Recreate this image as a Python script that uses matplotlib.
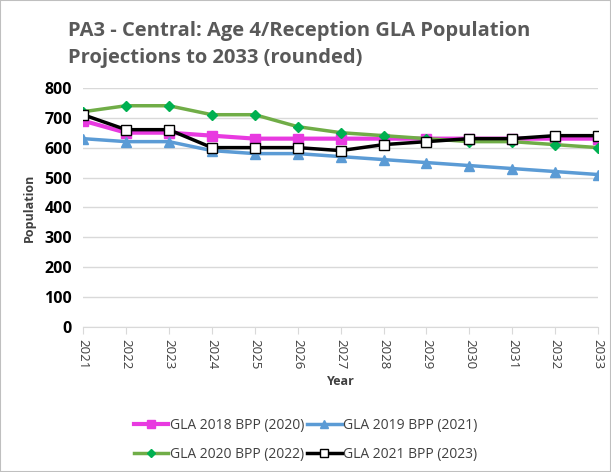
import matplotlib
matplotlib.use('Agg')
from matplotlib import pyplot as plt

years = [str(y) for y in range(2021, 2034)]
bpp_2018 = [690, 650, 650, 640, 630, 630, 630, 630, 630, 630, 630, 630, 630]
bpp_2019 = [630, 620, 620, 590, 580, 580, 570, 560, 550, 540, 530, 520, 510]
bpp_2020 = [720, 740, 740, 710, 710, 670, 650, 640, 630, 620, 620, 610, 600]
bpp_2021 = [710, 660, 660, 600, 600, 600, 590, 610, 620, 630, 630, 640, 640]
labels = ['GLA 2018 BPP (2020)', 'GLA 2019 BPP (2021)',
          'GLA 2020 BPP (2022)', 'GLA 2021 BPP (2023)']

plt.rcParams['font.family'] = ['Open Sans', 'DejaVu Sans']

fig = plt.figure(figsize=(6.11, 4.72), dpi=100)
ax = fig.add_axes([0.136, 0.307, 0.843, 0.507])

x = list(range(len(years)))
l1, = ax.plot(x, bpp_2018, color='#e83ae0', lw=3, marker='s', ms=7, label=labels[0])
l2, = ax.plot(x, bpp_2019, color='#5b9bd5', lw=2.5, marker='^', ms=7, label=labels[1])
l3, = ax.plot(x, bpp_2020, color='#70ad47', lw=2.5, marker='D', ms=5,
              mfc='#00b050', mec='#00b050', label=labels[2])
l4, = ax.plot(x, bpp_2021, color='black', lw=2.5, marker='s', ms=7.5,
              mfc='white', mec='black', mew=1, label=labels[3])

ax.set_xlim(0, len(years) - 1)
ax.set_ylim(0, 800)
ax.set_yticks(range(0, 801, 100))
ax.set_xticks(x)
ax.set_xticklabels(years, rotation=-90, fontsize=9.5, color='#404040')
for t in ax.get_yticklabels():
    t.set_fontweight('bold')
    t.set_fontsize(11.5)
    t.set_color('black')
ax.grid(axis='y', color='#d9d9d9', lw=1)
ax.set_axisbelow(True)
for s in ['top', 'right', 'left']:
    ax.spines[s].set_visible(False)
ax.spines['bottom'].set_color('#d9d9d9')
ax.tick_params(axis='y', length=0, pad=8)
ax.tick_params(axis='x', color='#d9d9d9', length=5)

ax.set_xlabel('Year', fontsize=9, fontweight='bold', color='#404040', labelpad=4)
ax.set_ylabel('Population', fontsize=9, fontweight='bold', color='#404040', labelpad=6)

fig.text(0.111, 0.955, 'PA3 - Central: Age 4/Reception GLA Population\nProjections to 2033 (rounded)',
         fontsize=14.5, fontweight='bold', color='#595959', va='top', linespacing=1.45)

# legend fills column-wise, so reorder to get 2018/2019 on the first row
fig.legend([l1, l3, l2, l4], [labels[0], labels[2], labels[1], labels[3]],
           loc='center', bbox_to_anchor=(0.5, 0.068), ncol=2, frameon=False,
           fontsize=10, labelcolor='#404040', handlelength=2.5, markerscale=0.85,
           handletextpad=0.1, columnspacing=0.2, labelspacing=1.0, borderaxespad=0)

fig.patches.append(plt.Rectangle((0, 0), 1, 1, transform=fig.transFigure,
                                 fill=False, edgecolor='#bfbfbf', lw=1.5))

plt.savefig('out.png', dpi=100)
